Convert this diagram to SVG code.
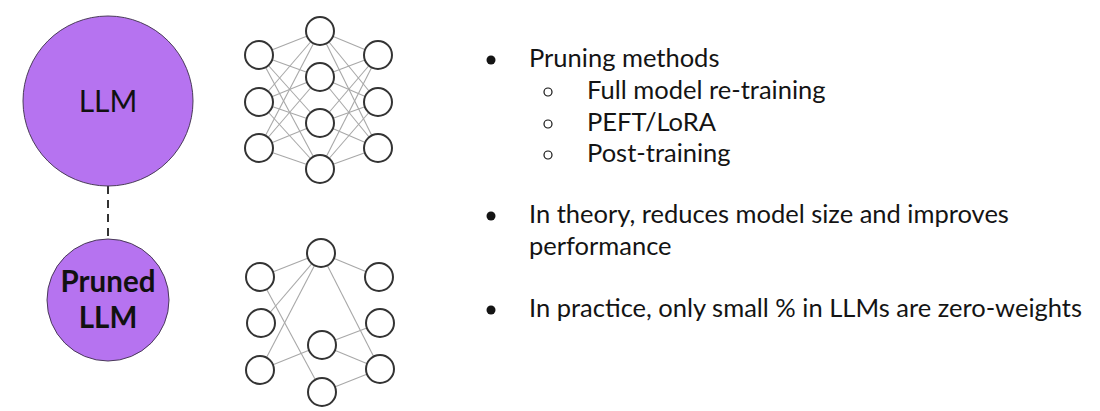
<svg xmlns="http://www.w3.org/2000/svg" width="1100" height="411" viewBox="0 0 1100 411">
<style>
.bg{fill:#ffffff}
.llm{fill:#b673f0;stroke:#4a3a5a;stroke-width:1}
.node{fill:#ffffff;stroke:#333333;stroke-width:2}
.edge{stroke:#a8a8a8;stroke-width:1.1;fill:none}
.dash{stroke:#333333;stroke-width:2;stroke-dasharray:8,6;fill:none}
.t{font-family:Lato,"Open Sans",sans-serif;font-size:25.5px;fill:#141414}
.c{font-family:Lato,"Open Sans",sans-serif;fill:#111111;text-anchor:middle}
</style>
<rect class="bg" width="1100" height="411"/>
<g id="connectors">
<line class="dash" x1="108" y1="186" x2="108" y2="238"/>
<g id="top-edges">
<line class="edge" x1="259" y1="55" x2="320" y2="31"/>
<line class="edge" x1="259" y1="55" x2="320" y2="77"/>
<line class="edge" x1="259" y1="55" x2="320" y2="123"/>
<line class="edge" x1="259" y1="55" x2="320" y2="169"/>
<line class="edge" x1="259" y1="102" x2="320" y2="31"/>
<line class="edge" x1="259" y1="102" x2="320" y2="77"/>
<line class="edge" x1="259" y1="102" x2="320" y2="123"/>
<line class="edge" x1="259" y1="102" x2="320" y2="169"/>
<line class="edge" x1="259" y1="148" x2="320" y2="31"/>
<line class="edge" x1="259" y1="148" x2="320" y2="77"/>
<line class="edge" x1="259" y1="148" x2="320" y2="123"/>
<line class="edge" x1="259" y1="148" x2="320" y2="169"/>
<line class="edge" x1="320" y1="31" x2="378" y2="55"/>
<line class="edge" x1="320" y1="31" x2="378" y2="102"/>
<line class="edge" x1="320" y1="31" x2="378" y2="148"/>
<line class="edge" x1="320" y1="77" x2="378" y2="55"/>
<line class="edge" x1="320" y1="77" x2="378" y2="102"/>
<line class="edge" x1="320" y1="77" x2="378" y2="148"/>
<line class="edge" x1="320" y1="123" x2="378" y2="55"/>
<line class="edge" x1="320" y1="123" x2="378" y2="102"/>
<line class="edge" x1="320" y1="123" x2="378" y2="148"/>
<line class="edge" x1="320" y1="169" x2="378" y2="55"/>
<line class="edge" x1="320" y1="169" x2="378" y2="102"/>
<line class="edge" x1="320" y1="169" x2="378" y2="148"/>
</g>
<g id="bottom-edges">
<line class="edge" x1="260" y1="277" x2="321" y2="253"/>
<line class="edge" x1="260" y1="277" x2="322" y2="392"/>
<line class="edge" x1="261" y1="323" x2="321" y2="253"/>
<line class="edge" x1="260" y1="370" x2="321" y2="253"/>
<line class="edge" x1="260" y1="370" x2="322" y2="345"/>
<line class="edge" x1="321" y1="253" x2="379" y2="277"/>
<line class="edge" x1="321" y1="253" x2="380" y2="369"/>
<line class="edge" x1="322" y1="345" x2="380" y2="323"/>
<line class="edge" x1="322" y1="345" x2="380" y2="369"/>
<line class="edge" x1="322" y1="392" x2="380" y2="369"/>
</g>
</g>
<g id="llm">
<circle class="llm" cx="108" cy="101" r="85"/>
<text class="c" x="108" y="112" font-size="30">LLM</text>
</g>
<g id="pruned-llm">
<circle class="llm" cx="108" cy="300" r="61"/>
<text class="c" x="108" y="292" font-size="29.5" font-weight="bold">Pruned</text>
<text class="c" x="108" y="328" font-size="29.5" font-weight="bold">LLM</text>
</g>
<g id="top-network">
<circle class="node" cx="259" cy="55" r="14"/>
<circle class="node" cx="259" cy="102" r="14"/>
<circle class="node" cx="259" cy="148" r="14"/>
<circle class="node" cx="320" cy="31" r="14"/>
<circle class="node" cx="320" cy="77" r="14"/>
<circle class="node" cx="320" cy="123" r="14"/>
<circle class="node" cx="320" cy="169" r="14"/>
<circle class="node" cx="378" cy="55" r="14"/>
<circle class="node" cx="378" cy="102" r="14"/>
<circle class="node" cx="378" cy="148" r="14"/>
</g>
<g id="bottom-network">
<circle class="node" cx="260" cy="277" r="14"/>
<circle class="node" cx="261" cy="323" r="14"/>
<circle class="node" cx="260" cy="370" r="14"/>
<circle class="node" cx="321" cy="253" r="14"/>
<circle class="node" cx="322" cy="345" r="14"/>
<circle class="node" cx="322" cy="392" r="14"/>
<circle class="node" cx="379" cy="277" r="14"/>
<circle class="node" cx="380" cy="323" r="14"/>
<circle class="node" cx="380" cy="369" r="14"/>
</g>
<g id="bullets">
<circle cx="491" cy="60" r="4.5" fill="#141414"/>
<text class="t" x="529" y="67">Pruning methods</text>
<circle cx="548" cy="92" r="4" fill="none" stroke="#141414" stroke-width="1.2"/>
<text class="t" x="587" y="99">Full model re-training</text>
<circle cx="548" cy="124" r="4" fill="none" stroke="#141414" stroke-width="1.2"/>
<text class="t" x="587" y="131">PEFT/LoRA</text>
<circle cx="548" cy="155" r="4" fill="none" stroke="#141414" stroke-width="1.2"/>
<text class="t" x="587" y="162">Post-training</text>
<circle cx="491" cy="216" r="4.5" fill="#141414"/>
<text class="t" x="529" y="223">In theory, reduces model size and improves</text>
<text class="t" x="529" y="255">performance</text>
<circle cx="491" cy="310" r="4.5" fill="#141414"/>
<text class="t" x="529" y="317">In practice, only small % in LLMs are zero-weights</text>
</g>
</svg>
